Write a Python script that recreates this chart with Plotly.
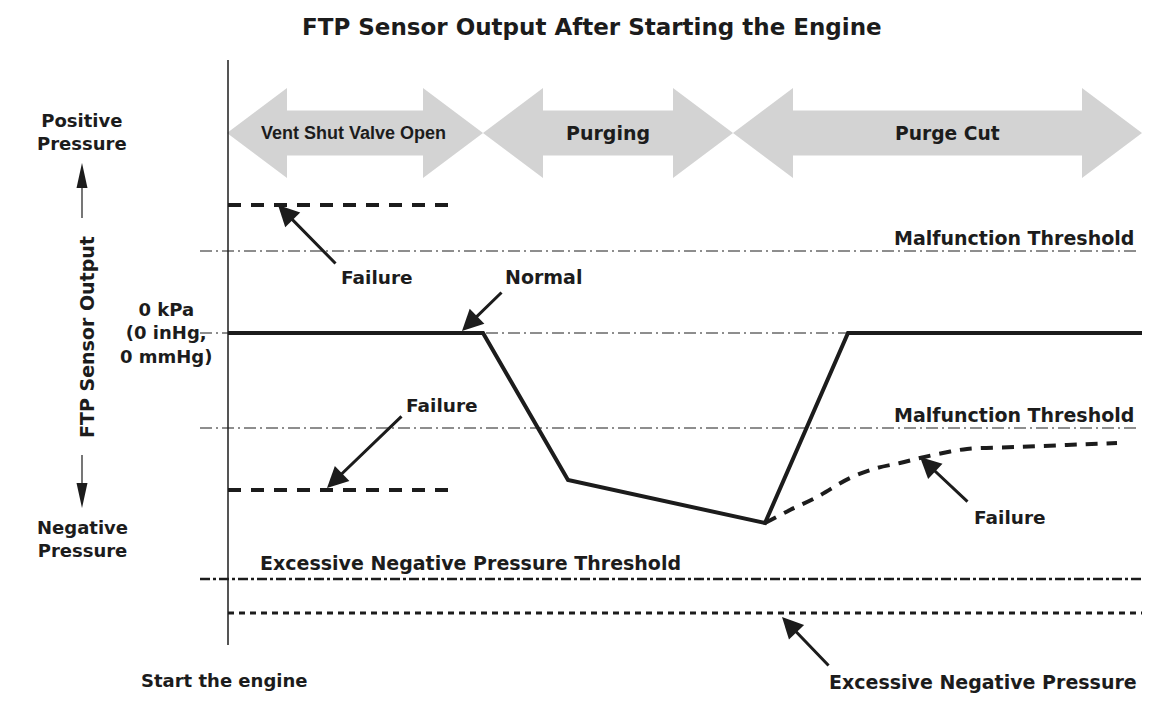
import plotly.graph_objects as go

# ---------------- data ----------------
title_text = "FTP Sensor Output After Starting the Engine"
phase_names = ["Vent Shut Valve Open", "Purging", "Purge Cut"]
phase_bounds = [227, 483, 733, 1142]          # time positions of phase boundaries

normal_t = [228, 483, 568, 765, 848, 1142]
normal_p = [0, 0, -147, -190, 0, 0]

fail_high_t = [228, 455]
fail_high_p = [128, 128]
fail_low_t = [228, 455]
fail_low_p = [-157, -157]

fail_curve_t = [765, 790, 817, 850, 877, 900, 920, 943, 967, 1017, 1067, 1117]
fail_curve_p = [-190, -177, -164, -145, -135, -130, -125, -120, -116, -114, -112, -110]

malf_upper = 82
malf_lower = -95
excess_threshold = -246
excess_pressure = -280

line_start = 200
line_end = 1142
thr_end = 1137

ink = "#1c1c1c"
FONT = "DejaVu Sans, Verdana, sans-serif"
ARIAL = "Liberation Sans, Arial, Helvetica, sans-serif"

fig = go.Figure()

def hline(x0, x1, y, dash, width):
    fig.add_trace(go.Scatter(x=[x0, x1], y=[y, y], mode="lines",
                             line=dict(color=ink, width=width, dash=dash),
                             hoverinfo="skip", showlegend=False))

# threshold lines
hline(line_start, thr_end, malf_upper, "12px,4px,2px,4px", 1)
hline(line_start, thr_end, malf_lower, "12px,4px,2px,4px", 1)
hline(line_start, line_end, 0, "12px,4px,2px,4px", 1)
hline(line_start, line_end, excess_threshold, "10px,3px,3px,3px", 2.5)
hline(228, line_end, excess_pressure, "6px,5px", 3)

# failure dashes
for tt, pp in [(fail_high_t, fail_high_p), (fail_low_t, fail_low_p)]:
    fig.add_trace(go.Scatter(x=tt, y=pp, mode="lines",
                             line=dict(color=ink, width=4, dash="13px,10px"),
                             hoverinfo="skip", showlegend=False))
fig.add_trace(go.Scatter(x=fail_curve_t, y=fail_curve_p, mode="lines",
                         line=dict(color=ink, width=4, dash="12px,9px", shape="spline"),
                         hoverinfo="skip", showlegend=False))

# normal line
fig.add_trace(go.Scatter(x=normal_t, y=normal_p, mode="lines",
                         line=dict(color=ink, width=4),
                         hoverinfo="skip", showlegend=False))

shapes = []
# vertical axis line
shapes.append(dict(type="line", xref="x", yref="y", x0=228, x1=228, y0=273, y1=-312,
                   line=dict(color=ink, width=1.5)))

# phase double arrows
yc, shaft_h, head_h, head_l = 200, 22.5, 45, 60
for i in range(len(phase_names)):
    a, b = phase_bounds[i], phase_bounds[i + 1]
    pts = [(a, yc), (a + head_l, yc + head_h), (a + head_l, yc + shaft_h),
           (b - head_l, yc + shaft_h), (b - head_l, yc + head_h), (b, yc),
           (b - head_l, yc - head_h), (b - head_l, yc - shaft_h),
           (a + head_l, yc - shaft_h), (a + head_l, yc - head_h)]
    path = "M " + " L ".join(f"{x},{y}" for x, y in pts) + " Z"
    shapes.append(dict(type="path", xref="x", yref="y", path=path,
                       fillcolor="#d3d3d3", line=dict(width=0), layer="below"))

# left-side direction arrows (thin shaft, narrow head)
ax_x = 82
for tip, base, tail in [(170, 145, 115), (-175, -150, -122)]:
    shapes.append(dict(type="line", xref="x", yref="y", x0=ax_x, x1=ax_x, y0=base, y1=tail,
                       line=dict(color=ink, width=1.2)))
    shapes.append(dict(type="path", xref="x", yref="y",
                       path=f"M {ax_x},{tip} L {ax_x-5.5},{base} L {ax_x+5.5},{base} Z",
                       fillcolor=ink, line=dict(width=0)))

ann = []
def text(x, y, s, size=18, xanchor="center", yanchor="middle", angle=0, family=FONT):
    ann.append(dict(x=x, y=y, xref="x", yref="y", text=s, showarrow=False,
                    xanchor=xanchor, yanchor=yanchor, textangle=angle,
                    font=dict(family=family, size=size, color=ink, weight="bold")))

def arrow(x_tail, y_tail, x_tip, y_tip):
    ann.append(dict(x=x_tip, y=y_tip, ax=x_tail, ay=y_tail, xref="x", yref="y",
                    axref="x", ayref="y", text="", showarrow=True,
                    arrowhead=2, arrowsize=1.4, arrowwidth=3, arrowcolor=ink,
                    standoff=0, startstandoff=0))

# phase labels
text((phase_bounds[0] + phase_bounds[1]) / 2 - 2, yc, phase_names[0], size=18, family=ARIAL)
text((phase_bounds[1] + phase_bounds[2]) / 2, yc, phase_names[1], size=19)
text((phase_bounds[2] + phase_bounds[3]) / 2 + 10, yc, phase_names[2], size=18.7)

text(592, 306, title_text, size=23)
text(1136, 95, "Malfunction Threshold", size=19, xanchor="right")
text(1136, -82, "Malfunction Threshold", size=19, xanchor="right")
text(258, -230, "Excessive Negative Pressure Threshold", size=19, xanchor="left")
text(1139, -349, "Excessive Negative Pressure", size=19, xanchor="right")
text(224, -347, "Start the engine")
text(166, 0, "0 kPa<br>(0 inHg,<br>0 mmHg)", size=18)
text(82, 201, "Positive<br>Pressure")
text(82, -206, "Negative<br>Pressure")
text(87, -4, "FTP Sensor Output", size=19, angle=-90)
text(377, 56, "Failure", size=18.5)
text(543, 56, "Normal", size=19)
text(442, -72, "Failure", size=18.5)
text(1010, -184, "Failure", size=18.5)

arrow(337, 68, 278, 128)
arrow(503, 42, 462, 2)
arrow(403, -82, 327, -155)
arrow(969, -170, 920, -124)
arrow(830, -334, 782, -284)

fig.update_layout(
    width=1162, height=706,
    margin=dict(l=0, r=0, t=0, b=0),
    paper_bgcolor="white", plot_bgcolor="white",
    xaxis=dict(range=[0, 1162], visible=False, fixedrange=True),
    yaxis=dict(range=[-373, 333], visible=False, fixedrange=True),
    shapes=shapes, annotations=ann, showlegend=False,
)

fig.write_html("out.html", post_script="document.body.style.margin='0';",
               config={"displayModeBar": False})
